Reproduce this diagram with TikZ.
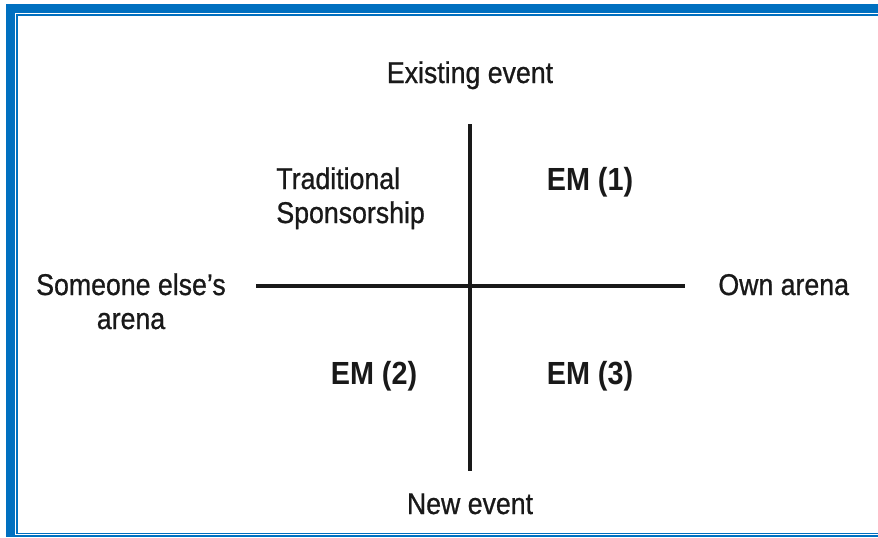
\documentclass[tikz,border=0pt]{standalone}
\usepackage{fontspec}
\setmainfont[FakeStretch=0.9]{Liberation Sans}
\newfontfamily\labelfont[FakeStretch=0.89,FakeBold=0.8,Ligatures=TeX]{Liberation Sans}
\usepackage{tikz}
\usetikzlibrary{calc}
\definecolor{frameblue}{HTML}{0070C0}
\newcommand{\drawBand}[4]{
   	\fill[frameblue] (#1,#2) rectangle (#3,#4) ;
}

\begin{document}
\begin{tikzpicture}[x=0.5pt, y=-0.5pt,
    lbl/.style={font=\labelfont\fontsize{15}{17}\selectfont, inner sep=0pt, anchor=base, text=black!90},
    em/.style={lbl, font=\fontsize{16}{18}\selectfont\bfseries},
    axis/.style={line width=1.7pt, black!90}]
%%%%%%%%%%%%%%%%%%
\useasboundingbox (0,0) rectangle (878,537);

%Frame
\drawBand{6}{4}{878}{12.7}
\drawBand{6}{4}{15}{537}
\drawBand{6}{535.3}{878}{537}
	\draw[frameblue, line width=0.8pt] (878,15) -- (16.8,15) -- (16.8,533.3) -- (878,533.3);

%Axes
    \coordinate (top) at (470,124);
    \coordinate (bottom) at (470,471);
    \coordinate (left) at (256,286);
    \coordinate (right) at (685,286);
    \draw[axis] (top) -- (bottom);
    \draw[axis] (left) -- (right);

% Axis labels
    \node[lbl] (existing) at (470,83) {Existing event};
    \node[lbl] (new) at (470,514) {New event};
    \node[lbl, align=center] (someone) at (131,329) {Someone else’s\\arena};
    \node[lbl, anchor=base west] (own) at (718,295) {Own arena};

% Quadrants
    \node[lbl, anchor=base west, align=left] (trad) at (276,223) {Traditional\\Sponsorship};
    \node[em] (em1) at (590,190) {EM (1)};
    \node[em] (em2) at (374,384) {EM (2)};
    \node[em] (em3) at (590,384) {EM (3)};

\end{tikzpicture}
\end{document}
